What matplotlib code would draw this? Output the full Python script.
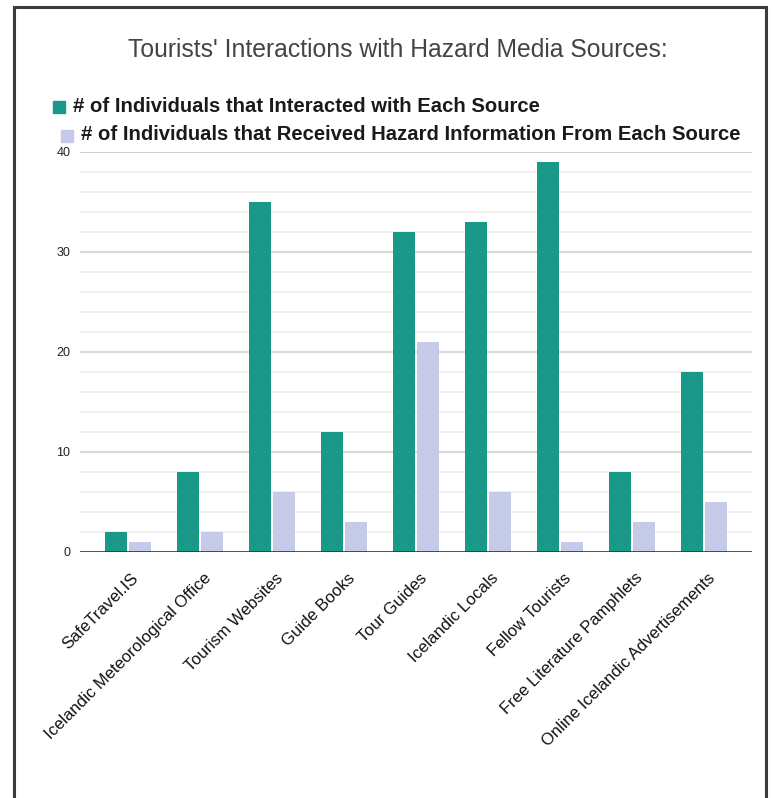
import matplotlib
import matplotlib.pyplot as plt
import matplotlib.transforms as mtransforms
from matplotlib.patches import Rectangle
import numpy as np

matplotlib.use('Agg')

plt.rcParams['font.family'] = ['Liberation Sans', 'DejaVu Sans']

# Дані графіка
sources = ['SafeTravel.IS', 'Icelandic Meteorological Office', 'Tourism Websites',
           'Guide Books', 'Tour Guides', 'Icelandic Locals', 'Fellow Tourists',
           'Free Literature Pamphlets', 'Online Icelandic Advertisements']
interacted = [2, 8, 35, 12, 32, 33, 39, 8, 18]
received = [1, 2, 6, 3, 21, 6, 1, 3, 5]
series_names = ['# of Individuals that Interacted with Each Source',
                '# of Individuals that Received Hazard Information From Each Source']
y_ticks = [0, 10, 20, 30, 40]

green = '#1a9988'
lavender = '#c5cae9'

W, H = 772, 798
fig = plt.figure(figsize=(W / 100, H / 100), dpi=100)

# Рамка навколо фігури (нижній край за межами зображення)
fig.patches.append(Rectangle((14 / W, -0.05), (766 - 14) / W, 1.05 - 7 / H,
                             transform=fig.transFigure, fill=False,
                             edgecolor='#3c3c3c', lw=2.2))

ax = fig.add_axes([80 / W, 1 - 552 / H, (752 - 80) / W, 400 / H])

x = np.arange(len(sources))
bw = 22 / 72
ax.bar(x - 12 / 72, interacted, width=bw, color=green, zorder=3)
ax.bar(x + 12 / 72, received, width=bw, color=lavender, zorder=3)

ax.set_xlim(-0.5 - 12 / 72, len(sources) - 0.5 + 12 / 72)
ax.set_ylim(0, 40)

# Сітка
for v in np.arange(2, 40, 2):
    major = v % 10 == 0
    ax.axhline(v, color='#d9d9d9' if major else '#ececec', lw=1.6 if major else 1.2, zorder=1)
ax.axhline(40, color='#c8c8c8', lw=1.2, zorder=1)
ax.axhline(0, color='#333333', lw=1.2, zorder=4)

for s in ax.spines.values():
    s.set_visible(False)

ax.set_yticks(y_ticks)
ax.set_yticklabels([str(t) for t in y_ticks], fontsize=9, color='#222222')
ax.tick_params(axis='y', length=0, pad=7)

ax.set_xticks(x)
ax.set_xticklabels(sources, rotation=45, ha='right', va='center',
                   rotation_mode='anchor', fontsize=12, color='#111111')
ax.tick_params(axis='x', length=0, pad=17)
offset = mtransforms.ScaledTranslation(6 / 72, 0, fig.dpi_scale_trans)
for lab in ax.get_xticklabels():
    lab.set_transform(lab.get_transform() + offset)

# Заголовок
fig.text(398 / W, 1 - 50 / H, "Tourists' Interactions with Hazard Media Sources:",
         ha='center', va='center', fontsize=17.8, color='#444444')

# Легенда вручну
fig.patches.append(Rectangle((53 / W, 1 - 113 / H), 12 / W, 12 / H,
                             transform=fig.transFigure, color=green))
fig.text(73 / W, 1 - 106 / H, series_names[0], ha='left', va='center',
         fontsize=14.6, fontweight='bold', color='#1a1a1a')
fig.patches.append(Rectangle((61 / W, 1 - 142 / H), 12 / W, 12 / H,
                             transform=fig.transFigure, color=lavender))
fig.text(81 / W, 1 - 135 / H, series_names[1], ha='left', va='center',
         fontsize=14.6, fontweight='bold', color='#1a1a1a')

fig.savefig('out.png', dpi=100)
plt.close(fig)
